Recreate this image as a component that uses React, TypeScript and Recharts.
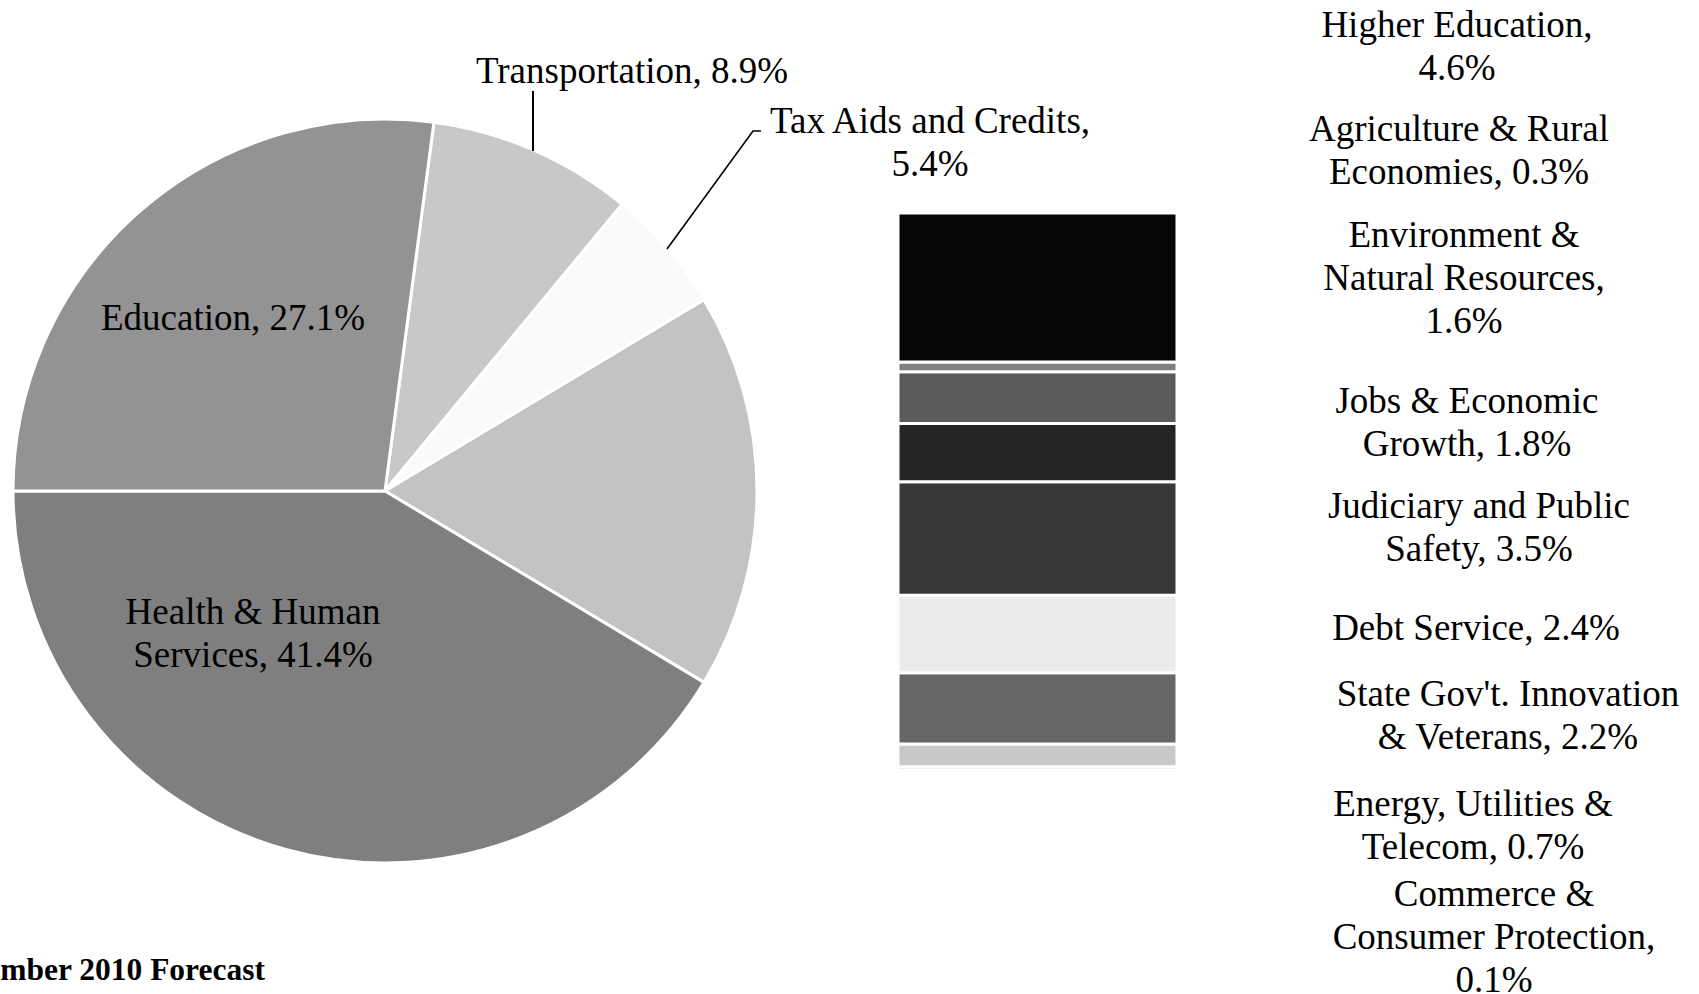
import React from 'react';
import { PieChart, Pie, Cell, BarChart, Bar, XAxis, YAxis } from 'recharts';

const FONT = '"Liberation Serif", "Times New Roman", serif';

// Pie (clockwise from the top, Transportation first)
const pieNames = ['Transportation', 'Tax Aids and Credits', 'Other', 'Health & Human Services', 'Education'];
const pieValues = [8.9, 5.4, 17.2, 41.4, 27.1];
const pieColors = ['#c8c8c8', '#fafafa', '#c3c3c3', '#7f7f7f', '#939393'];
const pieLabelLines = [
  ['Transportation, 8.9%'],
  ['Tax Aids and Credits,', '5.4%'],
  [],
  ['Health & Human', 'Services, 41.4%'],
  ['Education, 27.1%'],
];

// Stacked bar breakdown of "Other" (bottom to top)
const barNames = [
  'Commerce & Consumer Protection',
  'Energy, Utilities & Telecom',
  "State Gov't. Innovation & Veterans",
  'Debt Service',
  'Judiciary and Public Safety',
  'Jobs & Economic Growth',
  'Environment & Natural Resources',
  'Agriculture & Rural Economies',
  'Higher Education',
];
const barValues = [0.1, 0.7, 2.2, 2.4, 3.5, 1.8, 1.6, 0.3, 4.6];
const barColors = ['#a6a6a6', '#c8c8c8', '#666666', '#ebebeb', '#383838', '#242424', '#5a5a5a', '#808080', '#060606'];
const barLabelLines = [
  ['Commerce &', 'Consumer Protection,', '0.1%'],
  ['Energy, Utilities &', 'Telecom, 0.7%'],
  ["State Gov't. Innovation", '& Veterans, 2.2%'],
  ['Debt Service, 2.4%'],
  ['Judiciary and Public', 'Safety, 3.5%'],
  ['Jobs & Economic', 'Growth, 1.8%'],
  ['Environment &', 'Natural Resources,', '1.6%'],
  ['Agriculture & Rural', 'Economies, 0.3%'],
  ['Higher Education,', '4.6%'],
];

const footerText = 'November 2010 Forecast';

// layout positions for labels (x center, first baseline)
const pieLabelPos: [number, number][] = [
  [632, 82.5],
  [930, 132.5],
  [0, 0],
  [253, 623.5],
  [233, 329.5],
];
const barLabelPos: [number, number][] = [
  [1494, 906],
  [1473, 815.5],
  [1508, 706],
  [1476, 639.5],
  [1479, 518],
  [1467, 413],
  [1464, 247],
  [1459, 141],
  [1457, 37],
];
const LINE_H = 43;
const FONT_SIZE = 37;

function MultiLine({ x, y, lines }: { x: number; y: number; lines: string[] }) {
  return (
    <text x={x} y={y} textAnchor="middle" fontFamily={FONT} fontSize={FONT_SIZE} fill="#000">
      {lines.map((l, i) => (
        <tspan key={i} x={x} y={y + i * LINE_H}>
          {l}
        </tspan>
      ))}
    </text>
  );
}

export default function App() {
  const pieData = pieNames.map((n, i) => ({ name: n, value: pieValues[i] }));
  const barRow: any = { cat: 'Other' };
  barValues.forEach((v, i) => {
    barRow['k' + i] = v;
  });
  const total = barValues.reduce((a, b) => a + b, 0);

  return (
    <div
      style={{
        position: 'absolute',
        left: 0,
        top: 0,
        width: 1699,
        height: 994,
        background: '#fff',
        overflow: 'hidden',
        fontFamily: FONT,
      }}
    >
      <div style={{ position: 'absolute', left: 0, top: 0 }}>
        <PieChart width={770} height={870} margin={{ top: 0, right: 0, bottom: 0, left: 0 }}>
          <Pie
            data={pieData}
            dataKey="value"
            nameKey="name"
            cx={385}
            cy={491}
            outerRadius={372}
            startAngle={82.44}
            endAngle={-277.56}
            stroke="#ffffff"
            strokeWidth={3}
            isAnimationActive={false}
            label={false}
            labelLine={false}
          >
            {pieData.map((d, i) => (
              <Cell key={i} fill={pieColors[i]} />
            ))}
          </Pie>
        </PieChart>
      </div>

      <div style={{ position: 'absolute', left: 898, top: 213 }}>
        <BarChart
          width={279}
          height={557}
          data={[barRow]}
          margin={{ top: 0, right: 0, bottom: 0, left: 0 }}
          barCategoryGap={0}
        >
          <XAxis dataKey="cat" hide />
          <YAxis hide domain={[0, total]} allowDataOverflow />
          {barValues.map((v, i) => (
            <Bar
              key={i}
              dataKey={'k' + i}
              name={barNames[i]}
              stackId="s"
              fill={barColors[i]}
              stroke="#ffffff"
              strokeWidth={3}
              isAnimationActive={false}
            />
          ))}
        </BarChart>
      </div>

      <svg
        width={1699}
        height={994}
        style={{ position: 'absolute', left: 0, top: 0, pointerEvents: 'none' }}
      >
        {/* leader lines */}
        <path d="M533,91 L533,151" stroke="#000" strokeWidth={2} fill="none" />
        <path d="M761,131 L753,131 L667,249" stroke="#000" strokeWidth={1.6} fill="none" />

        {pieLabelLines.map((lines, i) =>
          lines.length ? <MultiLine key={'p' + i} x={pieLabelPos[i][0]} y={pieLabelPos[i][1]} lines={lines} /> : null
        )}
        {barLabelLines.map((lines, i) => (
          <MultiLine key={'b' + i} x={barLabelPos[i][0]} y={barLabelPos[i][1]} lines={lines} />
        ))}

        <text x={265} y={980} textAnchor="end" fontFamily={FONT} fontSize={31.5} fontWeight="bold" fill="#000">
          {footerText}
        </text>
      </svg>
    </div>
  );
}
